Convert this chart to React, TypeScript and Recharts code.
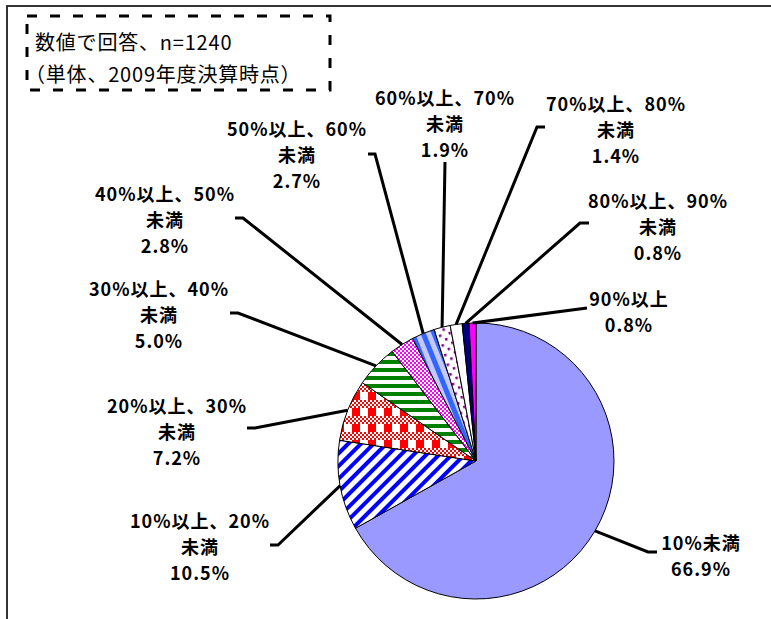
import { PieChart, Pie, Cell } from 'recharts';

// 回答区分と構成比（%）
const categories = [
  '10%未満',
  '10%以上、20%\n未満',
  '20%以上、30%\n未満',
  '30%以上、40%\n未満',
  '40%以上、50%\n未満',
  '50%以上、60%\n未満',
  '60%以上、70%\n未満',
  '70%以上、80%\n未満',
  '80%以上、90%\n未満',
  '90%以上',
];
const shares = [66.9, 10.5, 7.2, 5.0, 2.8, 2.7, 1.9, 1.4, 0.8, 0.8];

const noteLines = ['数値で回答、n=1240', '（単体、2009年度決算時点）'];

const fills = [
  '#9999ff',
  'url(#pt-diag)',
  'url(#pt-plaid)',
  'url(#pt-hstripe)',
  'url(#pt-checker)',
  'url(#pt-vstripe)',
  'url(#pt-dots)',
  '#ffffff',
  '#000080',
  '#ff00ff',
];

// leader line bend, end of the short stub and first text line, relative to the pie centre
const labelLayout = [
  { bend: [172, 91], stub: [181, 91], text: [225, 81] },
  { bend: [-198, 84], stub: [-206, 84], text: [-276, 59] },
  { bend: [-221, -33], stub: [-229, -33], text: [-299, -56] },
  { bend: [-238, -148], stub: [-246, -148], text: [-317, -173] },
  { bend: [-233, -243], stub: [-241, -243], text: [-311, -268] },
  { bend: [-101, -307], stub: [-108, -307], text: [-179, -333] },
  { bend: [-31, -299], stub: [-31, -299], text: [-31, -364] },
  { bend: [61, -334], stub: [69, -334], text: [140, -358] },
  { bend: [104, -238], stub: [113, -238], text: [182, -261] },
  { bend: [111, -153], stub: [111, -153], text: [153, -163] },
];

const data = categories.map((name, i) => ({ name, value: shares[i] }));

const labelFont = '"Noto Sans CJK JP", "Noto Sans", sans-serif';

// fine red/white checker in the upper half of the plaid tile
const plaidCells: [number, number][] = [];
for (let r = 0; r < 8; r += 2) {
  for (let c = 0; c < 16; c += 2) {
    if ((r + c) % 4 === 0) plaidCells.push([c, r]);
  }
}

const renderLabel = (props: any) => {
  const { cx, cy, midAngle, outerRadius, index, name } = props;
  const rad = (-midAngle * Math.PI) / 180;
  const sx = cx + outerRadius * Math.cos(rad);
  const sy = cy + outerRadius * Math.sin(rad);
  const l = labelLayout[index];
  const lines = [...String(name).split('\n'), `${shares[index].toFixed(1)}%`];
  const tx = cx + l.text[0];
  return (
    <g key={`lbl-${index}`}>
      <polyline
        points={`${sx},${sy} ${cx + l.bend[0]},${cy + l.bend[1]} ${cx + l.stub[0]},${cy + l.stub[1]}`}
        fill="none"
        stroke="#000"
        strokeWidth={3}
      />
      <text
        x={tx}
        y={cy + l.text[1]}
        textAnchor="middle"
        dominantBaseline="central"
        fontFamily={labelFont}
        fontWeight="bold"
        fontSize={18}
        letterSpacing={1}
        fill="#000"
      >
        {lines.map((t, i) => (
          <tspan key={i} x={tx} dy={i === 0 ? 0 : 26}>
            {t}
          </tspan>
        ))}
      </text>
    </g>
  );
};

export default function App() {
  return (
    <div style={{ position: 'absolute', left: 0, top: 0, width: 771, height: 619, background: '#fff' }}>
      {/* outer frame: top and left edges only */}
      <div style={{ position: 'absolute', left: 8, top: 5, width: 763, height: 2, background: '#333' }} />
      <div style={{ position: 'absolute', left: 6, top: 5, width: 2, height: 614, background: '#333' }} />

      <svg width={771} height={619} style={{ position: 'absolute', left: 0, top: 0 }}>
        <rect x={27} y={16} width={303} height={74} fill="#fff" stroke="#000" strokeWidth={3} strokeDasharray="10 13" />
        <text x={35} y={41} dominantBaseline="central" fontFamily={labelFont} fontSize={20} letterSpacing={0.8} fill="#000">
          {noteLines[0]}
        </text>
        <text x={25} y={73} dominantBaseline="central" fontFamily={labelFont} fontSize={20} letterSpacing={0.8} fill="#000">
          {noteLines[1]}
        </text>
      </svg>

      <div style={{ position: 'absolute', left: 0, top: 0 }}>
        <PieChart width={771} height={619} margin={{ top: 0, right: 0, bottom: 0, left: 0 }}>
          <defs>
            <pattern id="pt-diag" width={9} height={9} patternUnits="userSpaceOnUse" patternTransform="rotate(45)">
              <rect width={9} height={9} fill="#fff" />
              <rect width={4} height={9} fill="#0000ff" />
            </pattern>
            <pattern id="pt-plaid" width={16} height={16} patternUnits="userSpaceOnUse">
              <rect width={16} height={16} fill="#fff" />
              {plaidCells.map(([x, y]) => (
                <rect key={`${x}-${y}`} x={x} y={y} width={2} height={2} fill="#ff0000" />
              ))}
              <rect x={0} y={8} width={8} height={8} fill="#ff0000" />
            </pattern>
            <pattern id="pt-hstripe" width={8} height={8} patternUnits="userSpaceOnUse">
              <rect width={8} height={8} fill="#fff" />
              <rect width={8} height={4} fill="#008000" />
            </pattern>
            <pattern id="pt-checker" width={4} height={4} patternUnits="userSpaceOnUse">
              <rect width={4} height={4} fill="#fff" />
              <rect width={2} height={2} fill="#ff00ff" />
              <rect x={2} y={2} width={2} height={2} fill="#ff00ff" />
            </pattern>
            <pattern id="pt-vstripe" width={10} height={10} patternUnits="userSpaceOnUse" patternTransform="rotate(-22)">
              <rect width={5} height={10} fill="#c4c8ff" />
              <rect x={5} width={5} height={10} fill="#3366ff" />
            </pattern>
            <pattern id="pt-dots" width={10} height={10} patternUnits="userSpaceOnUse" patternTransform="rotate(-15)">
              <rect width={10} height={10} fill="#fff" />
              <rect x={2} y={2} width={2.5} height={2.5} fill="#800080" />
              <rect x={7} y={7} width={2.5} height={2.5} fill="#800080" />
            </pattern>
          </defs>
          <Pie
            data={data}
            dataKey="value"
            nameKey="name"
            cx={476}
            cy={461}
            outerRadius={138}
            startAngle={90}
            endAngle={-270}
            stroke="#000"
            strokeWidth={1}
            label={renderLabel}
            labelLine={false}
            isAnimationActive={false}
          >
            {data.map((d, i) => (
              <Cell key={d.name} fill={fills[i]} />
            ))}
          </Pie>
        </PieChart>
      </div>
    </div>
  );
}
